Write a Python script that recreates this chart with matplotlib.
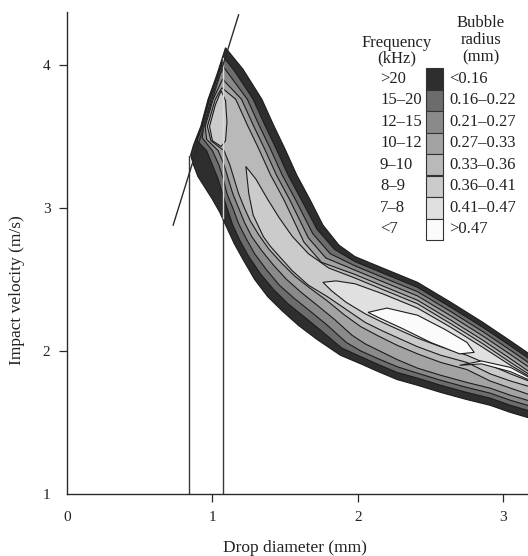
import matplotlib
matplotlib.use("Agg")
import matplotlib.pyplot as plt
from matplotlib.patches import Polygon, Rectangle

plt.rcParams['font.family'] = ['Liberation Serif', 'DejaVu Serif']

# ---- contour boundaries: (drop diameter mm, impact velocity m/s) ----
# outer edge of the regular-entrainment band
edge_upper = [(1.09,4.12),(1.21,3.97),(1.34,3.76),(1.42,3.58),(1.50,3.41),(1.58,3.23),(1.67,3.06),(1.76,2.88),(1.87,2.74),(1.98,2.66),(2.17,2.58),(2.41,2.48),(2.64,2.34),(2.86,2.20),(3.05,2.07),(3.25,1.93)]
edge_lower = [(1.09,4.12),(1.03,3.93),(0.97,3.76),(0.92,3.57),(0.87,3.44),(0.85,3.37),(0.87,3.30),(0.90,3.22),(0.95,3.14),(1.00,3.06),(1.05,2.97),(1.10,2.86),(1.15,2.75),(1.21,2.64),(1.29,2.50),(1.38,2.38),(1.48,2.28),(1.59,2.18),(1.72,2.08),(1.88,1.97),(2.02,1.91),(2.13,1.86),(2.27,1.80),(2.41,1.76),(2.57,1.71),(2.75,1.66),(2.91,1.62),(3.05,1.57),(3.25,1.51)]

# 20 kHz contour
f20_upper = [(1.08,4.05),(1.15,3.96),(1.28,3.76),(1.36,3.58),(1.44,3.41),(1.52,3.23),(1.61,3.06),(1.72,2.85),(1.84,2.71),(1.98,2.625),(2.17,2.545),(2.41,2.445),(2.64,2.305),(2.86,2.165),(3.05,2.035),(3.25,1.895)]
f20_lower = [(1.08,4.05),(1.04,3.93),(0.98,3.76),(0.93,3.57),(0.895,3.47),(0.96,3.40),(1.00,3.30),(1.04,3.20),(1.07,3.10),(1.10,3.00),(1.14,2.88),(1.19,2.77),(1.25,2.66),(1.33,2.54),(1.42,2.43),(1.52,2.33),(1.63,2.24),(1.75,2.14),(1.89,2.02),(2.02,1.96),(2.13,1.91),(2.27,1.85),(2.41,1.81),(2.57,1.76),(2.75,1.71),(2.91,1.67),(3.05,1.62),(3.25,1.56)]

# 15 kHz contour
f15_upper = [(1.08,3.98),(1.24,3.76),(1.32,3.58),(1.40,3.41),(1.48,3.23),(1.57,3.06),(1.69,2.82),(1.81,2.68),(1.98,2.595),(2.17,2.515),(2.41,2.415),(2.64,2.275),(2.86,2.135),(3.05,2.005),(3.25,1.865)]
f15_lower = [(1.08,3.98),(1.05,3.93),(0.99,3.76),(0.94,3.57),(0.93,3.49),(1.00,3.40),(1.045,3.30),(1.075,3.20),(1.10,3.10),(1.14,3.00),(1.18,2.89),(1.23,2.79),(1.29,2.68),(1.37,2.57),(1.46,2.46),(1.56,2.37),(1.67,2.28),(1.79,2.18),(1.92,2.06),(2.02,2.00),(2.13,1.95),(2.27,1.89),(2.41,1.845),(2.57,1.795),(2.75,1.745),(2.91,1.705),(3.05,1.655),(3.25,1.595)]

# 12 kHz contour
f12_upper = [(1.07,3.90),(1.20,3.76),(1.28,3.58),(1.36,3.41),(1.44,3.23),(1.53,3.06),(1.66,2.79),(1.78,2.65),(1.98,2.565),(2.17,2.485),(2.41,2.385),(2.64,2.245),(2.86,2.105),(3.05,1.975),(3.25,1.835)]
f12_lower = [(1.07,3.90),(1.005,3.76),(0.95,3.57),(0.96,3.48),(1.04,3.40),(1.08,3.30),(1.11,3.20),(1.14,3.10),(1.18,3.00),(1.22,2.90),(1.27,2.80),(1.34,2.70),(1.42,2.60),(1.51,2.50),(1.61,2.41),(1.72,2.32),(1.84,2.22),(1.96,2.11),(2.05,2.05),(2.15,2.00),(2.27,1.94),(2.41,1.88),(2.57,1.83),(2.75,1.78),(2.91,1.74),(3.05,1.69),(3.25,1.63)]

# 10 kHz contour
f10_upper = [(1.065,3.84),(1.16,3.76),(1.24,3.58),(1.32,3.41),(1.40,3.23),(1.49,3.06),(1.63,2.76),(1.75,2.62),(1.98,2.535),(2.17,2.455),(2.41,2.355),(2.64,2.215),(2.86,2.075),(3.05,1.945),(3.25,1.805)]
f10_lower = [(1.065,3.84),(1.02,3.76),(0.965,3.57),(0.99,3.47),(1.08,3.40),(1.12,3.30),(1.15,3.20),(1.18,3.10),(1.22,3.00),(1.26,2.91),(1.32,2.81),(1.39,2.71),(1.48,2.61),(1.57,2.52),(1.67,2.44),(1.79,2.35),(1.91,2.25),(2.02,2.17),(2.15,2.10),(2.27,2.04),(2.41,1.98),(2.57,1.92),(2.75,1.87),(2.91,1.79),(3.05,1.74),(3.25,1.67)]

# 9 kHz contours: patch near the top and the long central tongue
f9_patch = [(1.06,3.82),(1.09,3.75),(1.10,3.60),(1.09,3.47),(1.06,3.43),(1.00,3.47),(0.98,3.57),(1.02,3.72)]
f9_upper = [(1.23,3.29),(1.30,3.20),(1.38,3.06),(1.46,2.93),(1.55,2.80),(1.66,2.68),(1.80,2.58),(1.98,2.51),(2.17,2.43),(2.41,2.33),(2.64,2.19),(2.86,2.05),(3.05,1.92),(3.25,1.79)]
f9_lower = [(1.23,3.29),(1.25,3.10),(1.28,2.95),(1.35,2.80),(1.40,2.73),(1.47,2.65),(1.55,2.56),(1.66,2.46),(1.79,2.38),(1.92,2.29),(2.05,2.20),(2.17,2.14),(2.30,2.08),(2.41,2.03),(2.57,1.97),(2.75,1.92),(2.91,1.84),(3.05,1.79),(3.25,1.73)]

# 8 kHz contour
f8_upper = [(1.76,2.48),(1.85,2.49),(1.98,2.47),(2.17,2.40),(2.41,2.30),(2.64,2.165),(2.86,2.025),(3.05,1.90),(3.25,1.78)]
f8_lower = [(1.76,2.48),(1.82,2.42),(1.92,2.34),(2.05,2.26),(2.17,2.20),(2.30,2.14),(2.41,2.09),(2.57,2.03),(2.75,1.97),(2.91,1.90),(3.05,1.84),(3.25,1.76)]

# 7 kHz contours
f7_tongue = [(2.07,2.27),(2.20,2.30),(2.41,2.25),(2.60,2.15),(2.75,2.06),(2.80,1.99),(2.70,1.98),(2.50,2.06),(2.30,2.16),(2.15,2.23)]
f7_tail = [(2.70,1.90),(2.85,1.93),(3.05,1.885),(3.25,1.775),(3.25,1.765),(3.05,1.855),(2.85,1.91)]

# limiting diameters and the upper bound line
limit_diam = [0.84, 1.07]
limit_vel = [3.36, 4.05]
bound_diam = [0.73, 1.18]
bound_vel = [2.88, 4.35]

freq_labels = ['>20', '15–20', '12–15', '10–12', '9–10', '8–9', '7–8', '<7']
radius_labels = ['<0.16', '0.16–0.22', '0.21–0.27', '0.27–0.33',
                 '0.33–0.36', '0.36–0.41', '0.41–0.47', '>0.47']
shades = ['#2e2e2e', '#6c6c6c', '#8a8a8a', '#a3a3a3',
          '#b9b9b9', '#cbcbcb', '#e0e0e0', '#fbfbfb']

W, H = 528, 556
fig = plt.figure(figsize=(W / 100, H / 100), dpi=100)
ax = fig.add_axes([67 / W, 1 - 494 / H, (528 - 67) / W, (494 - 12) / H])
ax.set_xlim(0, 3.17)
ax.set_ylim(1, 4.37)


def band(upper, lower):
    return upper + lower[::-1][:-1]


regions = [
    (band(edge_upper, edge_lower), 0),
    (band(f20_upper, f20_lower), 1),
    (band(f15_upper, f15_lower), 2),
    (band(f12_upper, f12_lower), 3),
    (band(f10_upper, f10_lower), 4),
    (f9_patch, 5),
    (band(f9_upper, f9_lower), 5),
    (band(f8_upper, f8_lower), 6),
    (f7_tongue, 7),
    (f7_tail, 7),
]
for pts, lvl in regions:
    ax.add_patch(Polygon(pts, closed=True, facecolor=shades[lvl],
                         edgecolor='#1c1c1c', linewidth=0.8, zorder=2))

# vertical limiting diameters
ax.plot([limit_diam[0]] * 2, [1, limit_vel[0]], color='#3a3a3a', lw=1.0, zorder=1)
ax.plot([limit_diam[1]] * 2, [1, 2.93], color='#3a3a3a', lw=1.0, zorder=1)
ax.plot([limit_diam[1]] * 2, [2.93, limit_vel[1]], color='#d8d8d8', lw=1.0, zorder=3)
ax.plot(bound_diam, bound_vel, color='#2a2a2a', lw=1.0, zorder=3)

for s in ('top', 'right'):
    ax.spines[s].set_visible(False)
for s in ('left', 'bottom'):
    ax.spines[s].set_color('#2a2a2a')
    ax.spines[s].set_linewidth(1.0)
ax.set_xticks([0, 1, 2, 3])
ax.set_yticks([1, 2, 3, 4])
ax.tick_params(direction='out', length=6, width=0.9, color='#2a2a2a',
               labelsize=11, labelcolor='#222222', pad=6)
ax.xaxis.get_major_ticks()[0].tick1line.set_visible(False)
ax.yaxis.get_major_ticks()[0].tick1line.set_visible(False)
ax.set_xlabel('Drop diameter (mm)', fontsize=12.5, color='#222222')
ax.set_ylabel('Impact velocity (m/s)', fontsize=12.5, color='#222222')
ax.xaxis.set_label_coords(0.495, -0.095)
ax.yaxis.set_label_coords(-0.092, 0.423)

# key
box_x, box_w, box_top, box_h = 426, 17, 68, 21.5
for i, (fl, rl) in enumerate(zip(freq_labels, radius_labels)):
    y0 = box_top + i * box_h
    fig.add_artist(Rectangle((box_x / W, 1 - (y0 + box_h) / H), box_w / W, box_h / H,
                             transform=fig.transFigure, facecolor=shades[i],
                             edgecolor='#333333', linewidth=0.8))
    yc = 1 - (y0 + box_h / 2) / H
    fig.text(380 / W, yc, fl, ha='left', va='center', fontsize=12, color='#222222')
    fig.text(449 / W, yc, rl, ha='left', va='center', fontsize=12, color='#222222')

fig.text(397 / W, 1 - 43 / H, 'Frequency', ha='center', va='center', fontsize=12, color='#222222')
fig.text(397 / W, 1 - 58 / H, '(kHz)', ha='center', va='center', fontsize=12, color='#222222')
fig.text(481 / W, 1 - 23 / H, 'Bubble', ha='center', va='center', fontsize=12, color='#222222')
fig.text(481 / W, 1 - 40 / H, 'radius', ha='center', va='center', fontsize=12, color='#222222')
fig.text(481 / W, 1 - 57 / H, '(mm)', ha='center', va='center', fontsize=12, color='#222222')

fig.savefig('out.png', dpi=100)
